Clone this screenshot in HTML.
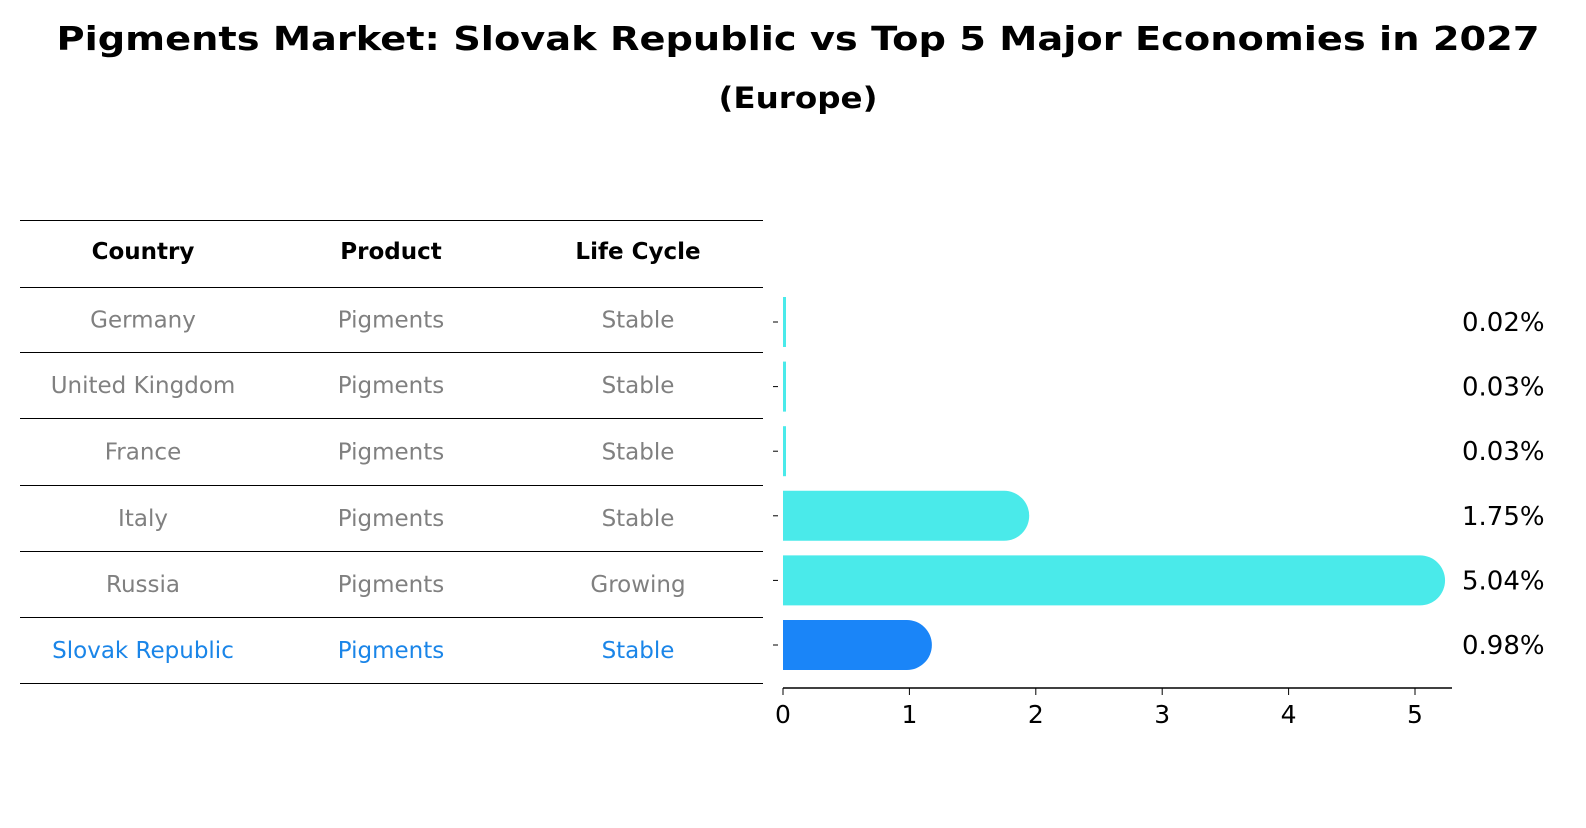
<!DOCTYPE html>
<html><head><meta charset="utf-8"><style>
body{margin:0;background:#fff;font-family:"Liberation Sans","DejaVu Sans",sans-serif}
</style></head><body>
<svg width="1586" height="823" xmlns="http://www.w3.org/2000/svg" id="svg" font-family="DejaVu Sans, Liberation Sans, sans-serif">
<rect width="1586" height="823" fill="#fff"/>
<text x="798" y="50" text-anchor="middle" font-size="33" font-weight="bold" textLength="1483" lengthAdjust="spacingAndGlyphs">Pigments Market: Slovak Republic vs Top 5 Major Economies in 2027</text>
<text x="798" y="108" text-anchor="middle" font-size="29" font-weight="bold" textLength="159" lengthAdjust="spacingAndGlyphs">(Europe)</text>
<g id="table"></g>
<g id="bars"></g>
</svg>
<script>
const countries=["Germany","United Kingdom","France","Italy","Russia","Slovak Republic"];
const products=["Pigments","Pigments","Pigments","Pigments","Pigments","Pigments"];
const cycles=["Stable","Stable","Stable","Stable","Growing","Stable"];
const values=[0.02,0.03,0.03,1.75,5.04,0.98];
const labels=["0.02%","0.03%","0.03%","1.75%","5.04%","0.98%"];
const ticks=[0,1,2,3,4,5];
const NS="http://www.w3.org/2000/svg";
function mk(t,a,p,txt){const e=document.createElementNS(NS,t);for(const k in a)e.setAttribute(k,a[k]);if(txt!==undefined)e.textContent=txt;p.appendChild(e);return e;}
const tbl=document.getElementById('table'),bars=document.getElementById('bars');
const x0=783,xs=126.4;const X=v=>x0+v*xs;
const rowY=i=>322+i*64.6;
const lines=[220,287,352,418,485,551,617,683];
lines.forEach(y=>{const l=mk('line',{x1:20,x2:763,y1:y+0.5,y2:y+0.5,stroke:'#000','stroke-width':1},tbl);

});
const cx=[143,391,638];
["Country","Product","Life Cycle"].forEach((h,j)=>{const t=mk('text',{x:cx[j],y:259,'text-anchor':'middle','font-size':23,'font-weight':'bold'},tbl,h);

});
countries.forEach((c,i)=>{const col=i===5?'#1a85e8':'#808080';const y=(lines[i+1]+lines[i+2])/2+8;
[c,products[i],cycles[i]].forEach((v,j)=>{const t=mk('text',{x:cx[j],y:y,'text-anchor':'middle','font-size':23,fill:col},tbl,v);

});});
const h=50;
values.forEach((v,i)=>{const yc=rowY(i);const col=i===5?'#1a85f8':'#4aeaea';let el;
const w=X(v)-x0;
if(w<6){el=mk('rect',{x:x0,y:yc-25,width:3,height:h,fill:col},bars);}
else{const r=h/2;el=mk('path',{d:`M${x0},${yc-r}H${x0+w}A${r},${r} 0 0 1 ${x0+w},${yc+r}H${x0}Z`,fill:col},bars);}


const tk=mk('line',{x1:x0-10,x2:x0-5,y1:yc,y2:yc,stroke:'#000'},bars);


const t=mk('text',{x:1462,y:yc+9,'font-size':26},bars,labels[i]);

});
const ax=mk('line',{x1:x0,x2:1452,y1:688,y2:688,stroke:'#000','stroke-width':1.5},bars);


ticks.forEach(v=>{const tl=mk('line',{x1:X(v),x2:X(v),y1:688,y2:695,stroke:'#000'},bars);


const t=mk('text',{x:X(v),y:723,'text-anchor':'middle','font-size':25},bars,String(v));

});
</script>
</body></html>
